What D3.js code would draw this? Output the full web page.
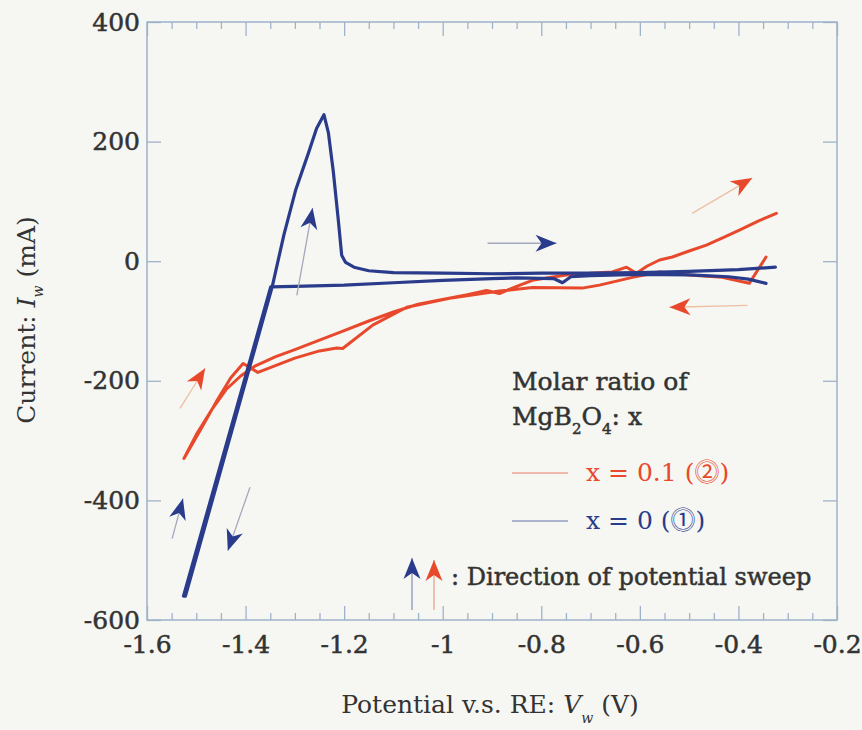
<!DOCTYPE html>
<html>
<head>
    <meta charset="utf-8">
    <style>
        body { margin: 0; background: #f6f7f2; }
        svg { display: block; }
    </style>
</head>
<body>
<script src="https://d3js.org/d3.v7.min.js"></script>
<script>
    // x = 0 (MgB2O4 free), sweep order: lower branch leftward, down, up to the peak, upper branch rightward
    var blueV = [-0.344, -0.38, -0.42, -0.5, -0.6, -0.7, -0.74, -0.757, -0.775, -0.85, -0.9, -1.0, -1.1, -1.2, -1.3, -1.349,
        -1.526, -1.522, -1.346, -1.322, -1.298, -1.272, -1.256, -1.241, -1.232, -1.222, -1.212, -1.205, -1.197,
        -1.18, -1.15, -1.1, -1.0, -0.9, -0.8, -0.7, -0.6, -0.5, -0.4, -0.325];
    var blueI = [-37, -30, -26, -23, -22, -24, -26, -36, -29, -28, -29, -32, -36, -40, -42, -43,
        -560, -560, -43, 45, 120, 182, 222, 245, 215, 150, 70, 10, -2,
        -10, -16, -19, -20, -21, -20, -20, -19, -17, -14, -10];

    // x = 0.1, from the turn at the right end, back to the left and forward again
    var redV = [-0.344, -0.378, -0.433, -0.5, -0.56, -0.615, -0.682, -0.717, -0.818, -0.885, -0.986, -1.073, -1.142,
        -1.203, -1.215, -1.25, -1.30, -1.35, -1.375, -1.405, -1.43, -1.458, -1.49, -1.525,
        -1.50, -1.47, -1.44, -1.41, -1.38, -1.34, -1.30, -1.25, -1.209, -1.15, -1.10, -1.05, -1.006, -0.95, -0.911,
        -0.885, -0.85, -0.818, -0.78, -0.749, -0.70, -0.656, -0.627, -0.607, -0.585, -0.56, -0.534, -0.50, -0.465,
        -0.43, -0.398, -0.36, -0.323];
    var redI = [7, -37, -27, -23, -18, -27, -40, -45, -44, -50, -62, -77, -107,
        -146, -145, -150, -162, -178, -186, -171, -195, -233, -280, -330,
        -290, -250, -215, -192, -175, -160, -148, -132, -119, -100, -85, -72, -65, -56, -49,
        -54, -42, -32, -27, -23, -20, -18, -10, -20, -8, 2, 7, 17, 27,
        40, 52, 67, 80];

    // sweep direction arrows [v0, i0, v1, i1], head at the second point
    var blueArrows = [[-1.549, -464, -1.527, -397], [-1.391, -378, -1.436, -484],
        [-1.296, -57, -1.264, 89], [-0.909, 30, -0.769, 30]];
    var redArrows = [[-1.533, -246, -1.482, -179], [-0.494, 80, -0.372, 139],
        [-0.382, -74, -0.540, -77]];

    var xMajor = [-1.6, -1.4, -1.2, -1.0, -0.8, -0.6, -0.4, -0.2];
    var xTickLabels = ['-1.6', '-1.4', '-1.2', '-1', '-0.8', '-0.6', '-0.4', '-0.2'];
    var yMajor = [400, 200, 0, -200, -400, -600];
    var yTickLabels = ['400', '200', '0', '-200', '-400', '-600'];

    var frameColor = '#9fb2ca';
    var blue = '#2a3b8c', red = '#e8492c';
    var font = 'DejaVu Serif, serif';

    var svg = d3.select('body').append('svg')
        .attr('width', 862)
        .attr('height', 730);

    var x = d3.scaleLinear().domain([-1.6, -0.2]).range([147, 837]);
    var y = d3.scaleLinear().domain([-600, 400]).range([620, 22]);

    var xMinor = d3.range(0, 29).map(function (k) { return -1.6 + k * 0.05; })
        .filter(function (v) { return Math.abs(Math.round(v * 5) - v * 5) > 1e-6; });

    function styleAxis(g) {
        g.select('.domain').remove();
        g.selectAll('line').attr('stroke', frameColor).attr('stroke-width', 1.3);
        g.selectAll('text')
            .attr('fill', '#333')
            .attr('font-family', font)
            .attr('font-size', 25)
            .attr('stroke', '#333')
            .attr('stroke-width', 0.5);
    }

    svg.append('g').attr('transform', 'translate(0,620)')
        .call(d3.axisBottom(x).tickValues(xMajor).tickSize(-14).tickPadding(15)
            .tickFormat(function (d, i) { return xTickLabels[i]; }))
        .call(styleAxis);
    svg.append('g').attr('transform', 'translate(0,620)')
        .call(d3.axisBottom(x).tickValues(xMinor).tickSize(-7).tickFormat(''))
        .call(styleAxis);
    svg.append('g').attr('transform', 'translate(0,22)')
        .call(d3.axisTop(x).tickValues(xMajor).tickSize(-14).tickFormat(''))
        .call(styleAxis);
    svg.append('g').attr('transform', 'translate(0,22)')
        .call(d3.axisTop(x).tickValues(xMinor).tickSize(-7).tickFormat(''))
        .call(styleAxis);
    svg.append('g').attr('transform', 'translate(147,0)')
        .call(d3.axisLeft(y).tickValues(yMajor).tickSize(-14).tickPadding(7)
            .tickFormat(function (d, i) { return yTickLabels[i]; }))
        .call(styleAxis);
    svg.append('g').attr('transform', 'translate(837,0)')
        .call(d3.axisRight(y).tickValues(yMajor).tickSize(-14).tickFormat(''))
        .call(styleAxis);

    svg.append('rect')
        .attr('x', x(-1.6)).attr('y', y(400))
        .attr('width', x(-0.2) - x(-1.6)).attr('height', y(-600) - y(400))
        .attr('fill', 'none')
        .attr('stroke', frameColor)
        .attr('stroke-width', 1.5);

    var line = d3.line()
        .x(function (d) { return x(d[0]); })
        .y(function (d) { return y(d[1]); });

    svg.append('path')
        .datum(d3.zip(redV, redI))
        .attr('d', line)
        .attr('fill', 'none')
        .attr('stroke', red)
        .attr('stroke-width', 3)
        .attr('stroke-linejoin', 'round')
        .attr('stroke-linecap', 'round');

    svg.append('path')
        .datum(d3.zip(blueV, blueI))
        .attr('d', line)
        .attr('fill', 'none')
        .attr('stroke', blue)
        .attr('stroke-width', 3.2)
        .attr('stroke-linejoin', 'round')
        .attr('stroke-linecap', 'round');

    function arrow(x1, y1, x2, y2, head, tail) {
        var ang = Math.atan2(y2 - y1, x2 - x1) * 180 / Math.PI;
        svg.append('line')
            .attr('x1', x1).attr('y1', y1).attr('x2', x2).attr('y2', y2)
            .attr('stroke', tail)
            .attr('stroke-width', 1.3);
        svg.append('path')
            .attr('d', 'M0,0L-21,-8.5L-15,0L-21,8.5Z')
            .attr('transform', 'translate(' + x2 + ',' + y2 + ') rotate(' + ang + ')')
            .attr('fill', head);
    }

    blueArrows.forEach(function (a) {
        arrow(x(a[0]), y(a[1]), x(a[2]), y(a[3]), blue, '#a3a8bd');
    });
    redArrows.forEach(function (a) {
        arrow(x(a[0]), y(a[1]), x(a[2]), y(a[3]), red, '#efbfa3');
    });

    // legend
    var leg = svg.append('g')
        .attr('font-family', font)
        .attr('font-size', 25);

    leg.append('text').attr('x', 512).attr('y', 390)
        .attr('fill', '#333').attr('stroke', '#333').attr('stroke-width', 0.5)
        .text('Molar ratio of');

    var mg = leg.append('text').attr('x', 512).attr('y', 425)
        .attr('fill', '#333').attr('stroke', '#333').attr('stroke-width', 0.5);
    mg.append('tspan').text('MgB');
    mg.append('tspan').attr('dy', 9).attr('font-size', 15).text('2');
    mg.append('tspan').attr('dy', -9).text('O');
    mg.append('tspan').attr('dy', 9).attr('font-size', 15).text('4');
    mg.append('tspan').attr('dy', -9).text(': x');

    leg.append('line').attr('x1', 512).attr('x2', 568).attr('y1', 473).attr('y2', 473)
        .attr('stroke', red).attr('stroke-width', 1).attr('opacity', 0.7);
    var t2 = leg.append('text').attr('x', 586).attr('y', 481).attr('fill', red);
    t2.append('tspan').text('x = 0.1 (');
    t2.append('tspan').attr('font-family', 'DejaVu Sans, Noto Sans CJK JP').text('\u24F6');
    t2.append('tspan').text(')');

    leg.append('line').attr('x1', 512).attr('x2', 568).attr('y1', 521).attr('y2', 521)
        .attr('stroke', blue).attr('stroke-width', 1).attr('opacity', 0.7);
    var t1 = leg.append('text').attr('x', 586).attr('y', 529).attr('fill', blue);
    t1.append('tspan').text('x = 0 (');
    t1.append('tspan').attr('font-family', 'DejaVu Sans, Noto Sans CJK JP').text('\u24F5');
    t1.append('tspan').text(')');

    arrow(412, 610, 412, 558, blue, '#8e96b8');
    arrow(434, 610, 434, 560, red, '#e9a58a');
    leg.append('text').attr('x', 451).attr('y', 585)
        .attr('font-size', 24)
        .attr('fill', '#333').attr('stroke', '#333').attr('stroke-width', 0.5)
        .text(': Direction of potential sweep');

    // axis titles
    var yt = svg.append('text')
        .attr('transform', 'translate(35,320) rotate(-90)')
        .attr('text-anchor', 'middle')
        .attr('font-family', font)
        .attr('font-size', 25)
        .attr('fill', '#333');
    yt.append('tspan').text('Current: ');
    yt.append('tspan').attr('font-style', 'italic').text('I');
    yt.append('tspan').attr('dy', 8).attr('font-size', 14).attr('font-style', 'italic').text('w');
    yt.append('tspan').attr('dy', -8).text(' (mA)');

    var xt = svg.append('text')
        .attr('x', 490).attr('y', 713)
        .attr('text-anchor', 'middle')
        .attr('font-family', font)
        .attr('font-size', 25)
        .attr('fill', '#333');
    xt.append('tspan').text('Potential v.s. RE: ');
    xt.append('tspan').attr('font-style', 'italic').text('V');
    xt.append('tspan').attr('dy', 10).attr('font-size', 14).attr('font-style', 'italic').text('w');
    xt.append('tspan').attr('dy', -10).text(' (V)');
</script>
</body>
</html>
